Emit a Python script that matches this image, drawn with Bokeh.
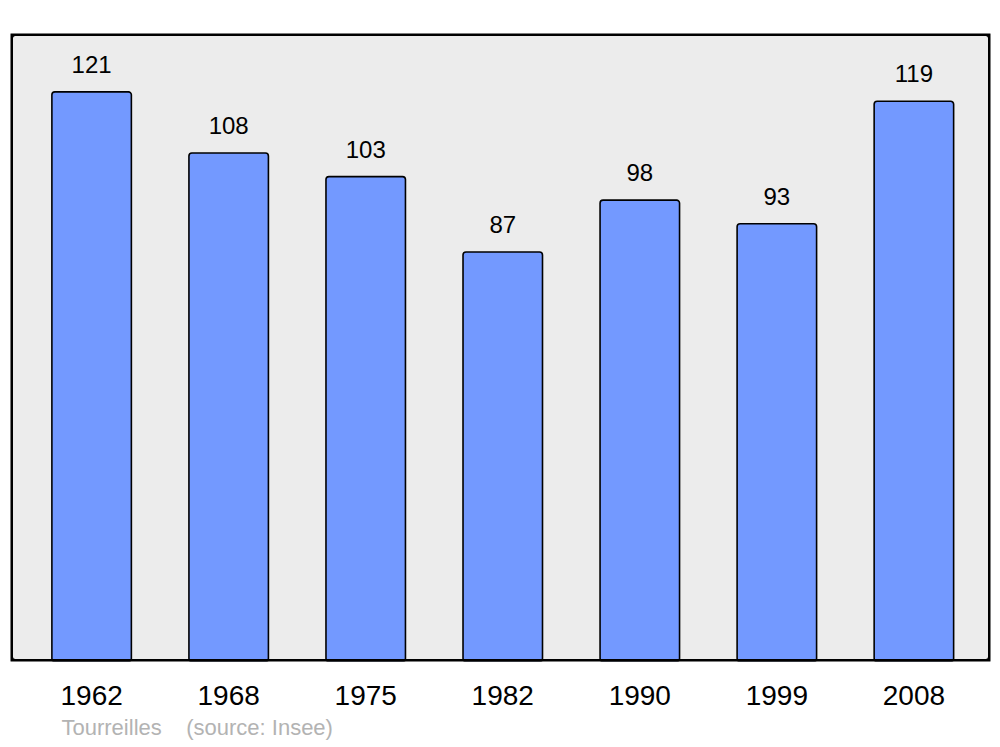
from bokeh.plotting import figure
from bokeh.models import Range1d, FixedTicker, ColumnDataSource, BoxAnnotation, Title
from bokeh.core.properties import value
from bokeh.embed import file_html
from bokeh.resources import INLINE

years = ["1962", "1968", "1975", "1982", "1990", "1999", "2008"]
population = [121, 108, 103, 87, 98, 93, 119]
place = "Tourreilles"
source_note = "(source: Insee)"

idx = list(range(len(years)))
src = ColumnDataSource(dict(x=idx, top=population, lbl=[str(v) for v in population]))

p = figure(width=1000, height=747, output_backend="svg", toolbar_location=None,
           x_range=Range1d(-0.592, 6.559), y_range=Range1d(0, 133.4),
           min_border_left=10, min_border_right=10, min_border_top=33, min_border_bottom=86)
p.background_fill_color = "white"
p.border_fill_color = "white"
p.outline_line_color = None
p.grid.visible = False
p.yaxis.visible = False

p.add_layout(BoxAnnotation(fill_color="#ececec", fill_alpha=1.0, line_color=None,
                           border_radius=5, level="underlay"))

p.vbar(x="x", top="top", width=0.58, source=src, fill_color="#7399ff",
       line_color="black", line_width=1.6, border_radius=3)
p.text(x="x", y="top", text="lbl", source=src, text_align="center",
       text_baseline="bottom", y_offset=-19, text_font=value("Liberation Sans"),
       text_font_size="24px", text_color="black")

p.add_layout(BoxAnnotation(fill_alpha=0, line_color="black", line_alpha=1.0,
                           line_width=5, border_radius=5, level="overlay"))

ax = p.xaxis[0]
ax.ticker = FixedTicker(ticks=idx)
ax.major_label_overrides = {i: y for i, y in zip(idx, years)}
ax.axis_line_color = None
ax.major_tick_line_color = None
ax.minor_tick_line_color = None
ax.major_label_text_font = "Liberation Sans"
ax.major_label_text_font_size = "28px"
ax.major_label_text_color = "black"
ax.major_label_standoff = 18

caption = Title(text=place + "\u00a0" * 4 + source_note, align="left", offset=51,
                text_font="Liberation Sans", text_font_size="22px",
                text_font_style="normal", text_color="#b3b3b3", standoff=11)
p.add_layout(caption, "below")

open("out.html", "w").write(file_html(p, INLINE))
